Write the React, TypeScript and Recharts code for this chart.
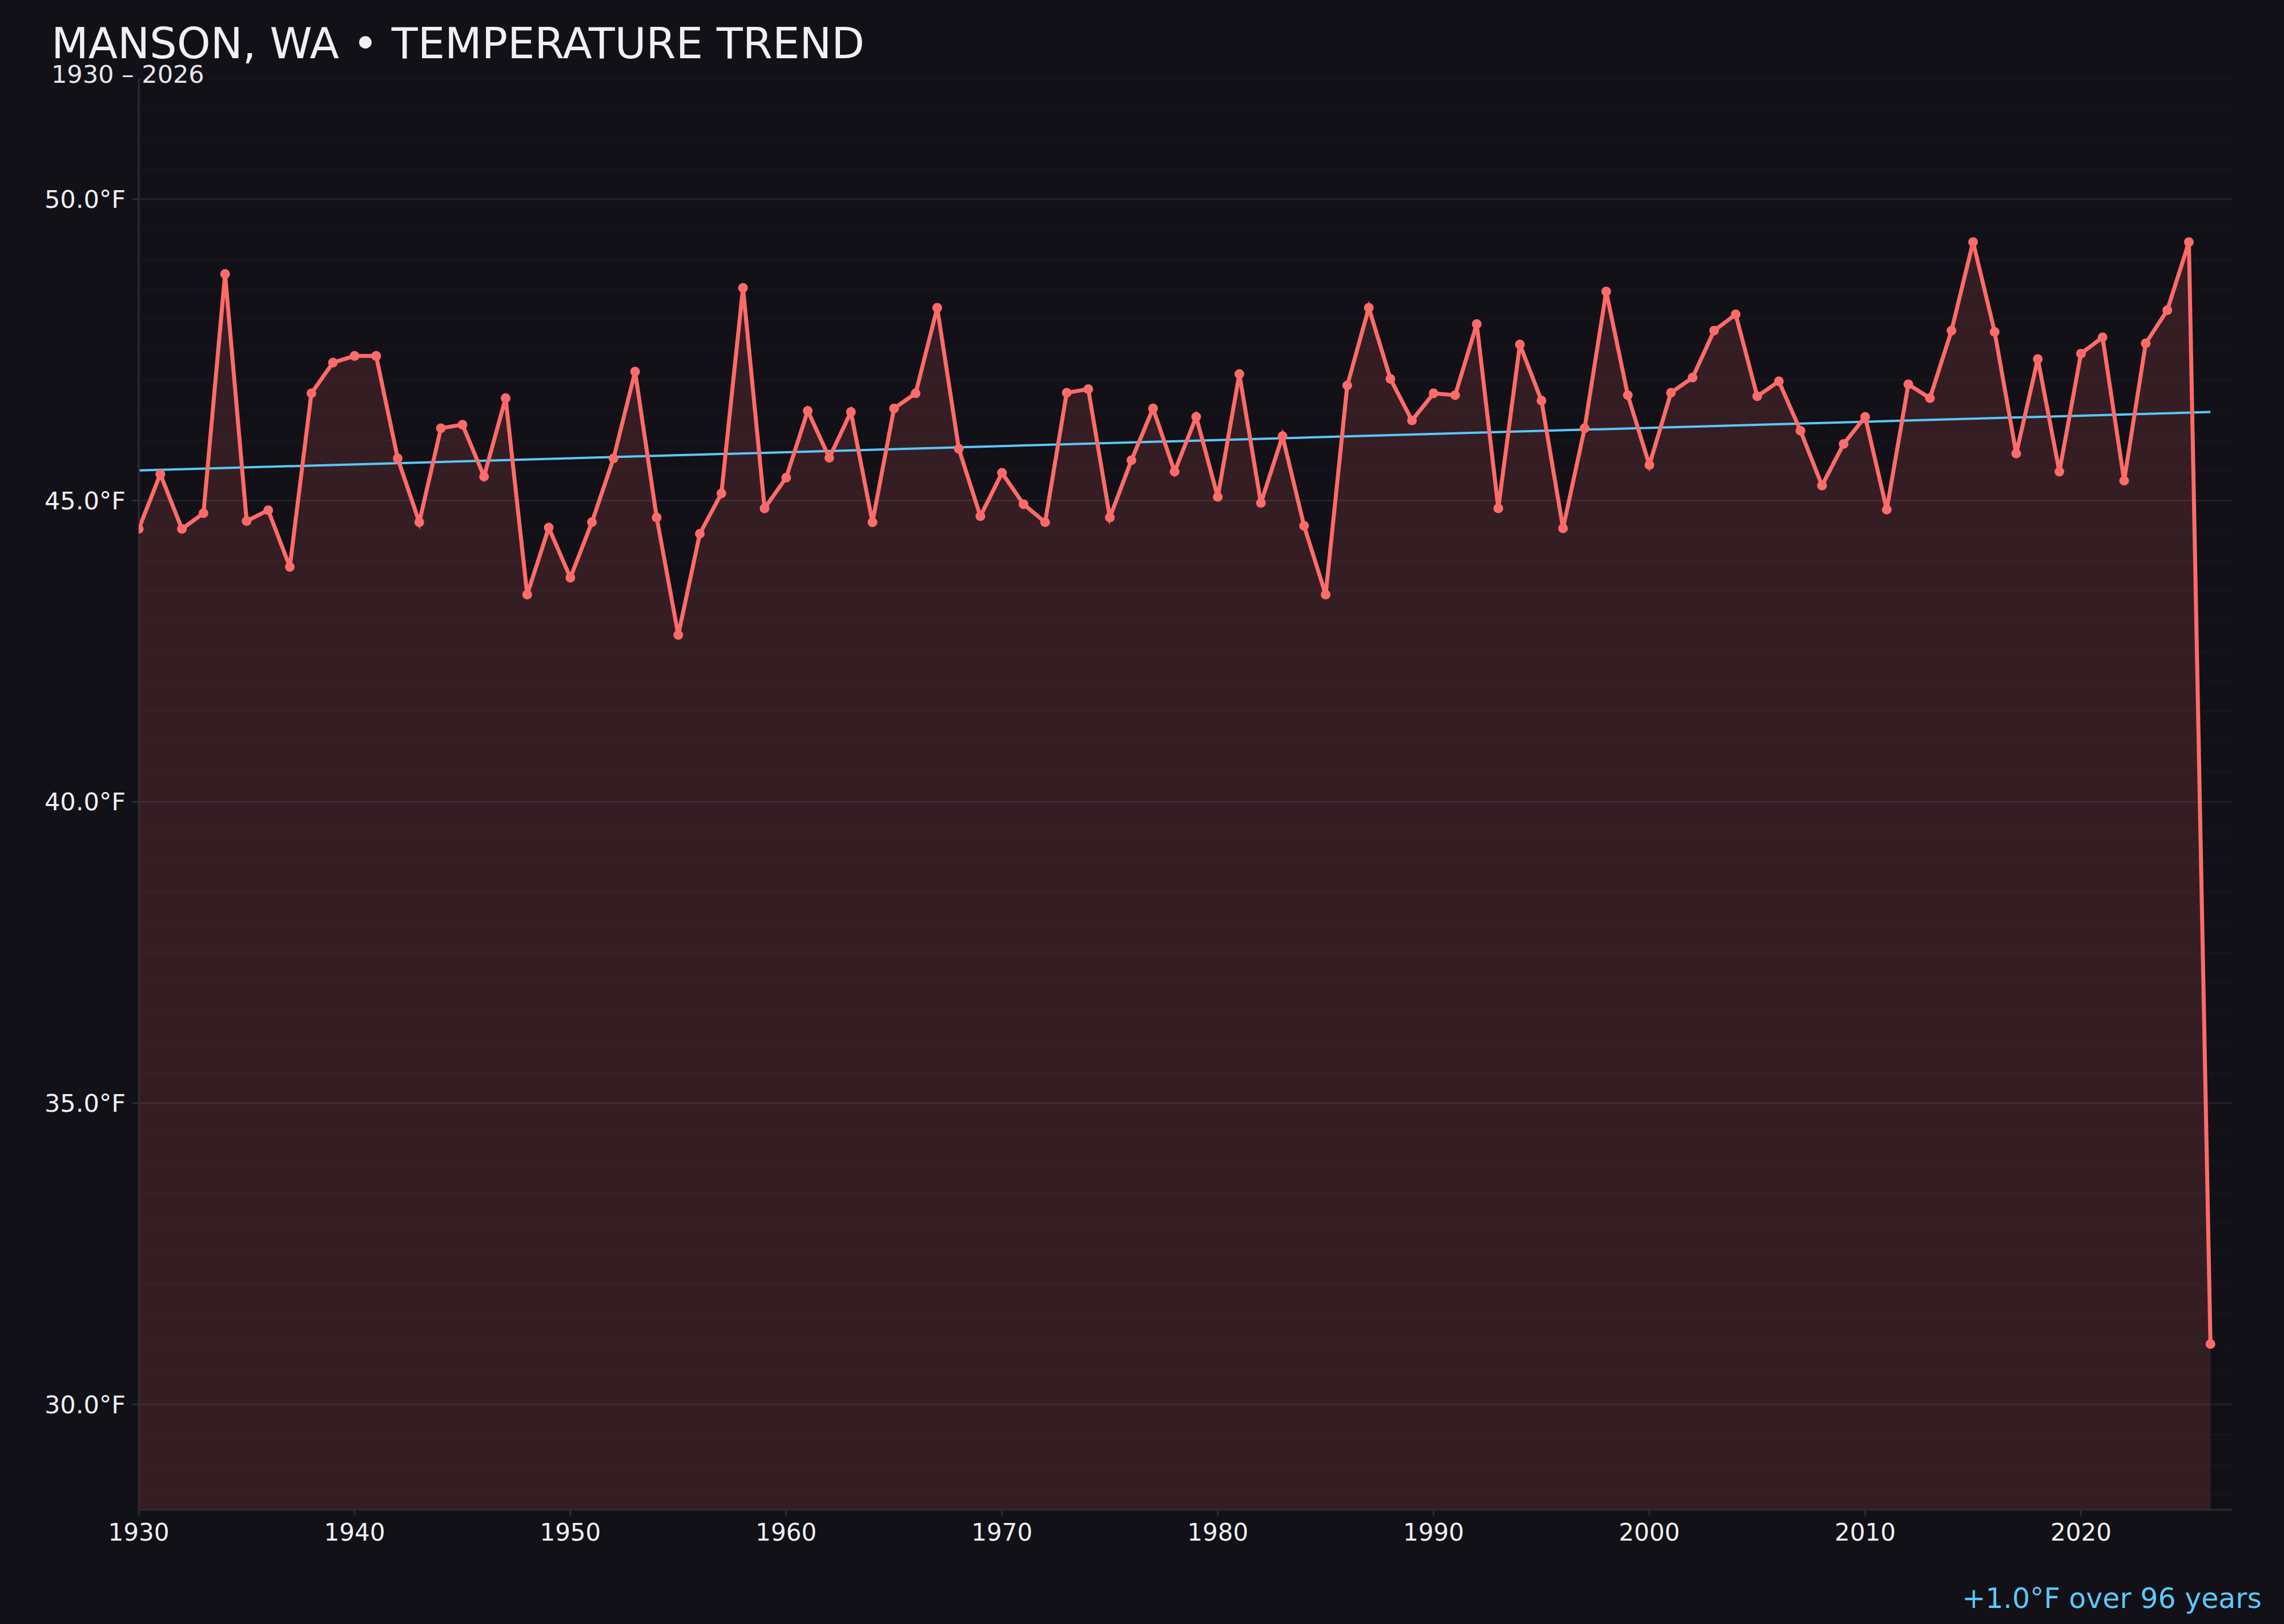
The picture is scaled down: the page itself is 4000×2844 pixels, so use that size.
import {
  Area,
  CartesianGrid,
  ComposedChart,
  Line,
  ReferenceLine,
  XAxis,
  YAxis,
} from "recharts";

const years = [
  1930, 1931, 1932, 1933, 1934, 1935, 1936, 1937, 1938, 1939,
  1940, 1941, 1942, 1943, 1944, 1945, 1946, 1947, 1948, 1949,
  1950, 1951, 1952, 1953, 1954, 1955, 1956, 1957, 1958, 1959,
  1960, 1961, 1962, 1963, 1964, 1965, 1966, 1967, 1968, 1969,
  1970, 1971, 1972, 1973, 1974, 1975, 1976, 1977, 1978, 1979,
  1980, 1981, 1982, 1983, 1984, 1985, 1986, 1987, 1988, 1989,
  1990, 1991, 1992, 1993, 1994, 1995, 1996, 1997, 1998, 1999,
  2000, 2001, 2002, 2003, 2004, 2005, 2006, 2007, 2008, 2009,
  2010, 2011, 2012, 2013, 2014, 2015, 2016, 2017, 2018, 2019,
  2020, 2021, 2022, 2023, 2024, 2025, 2026,
];

// annual mean temperature, °F
const temps = [
  44.53, 45.44, 44.53, 44.79, 48.76, 44.66, 44.84, 43.9, 46.78, 47.29,
  47.4, 47.4, 45.7, 44.64, 46.2, 46.26, 45.4, 46.7, 43.44, 44.55,
  43.72, 44.64, 45.7, 47.14, 44.72, 42.77, 44.45, 45.12, 48.53, 44.87,
  45.38, 46.49, 45.71, 46.47, 44.64, 46.53, 46.78, 48.2, 45.86, 44.74,
  45.46, 44.94, 44.64, 46.79, 46.85, 44.72, 45.67, 46.53, 45.48, 46.39,
  45.06, 47.1, 44.96, 46.07, 44.58, 43.44, 46.91, 48.2, 47.02, 46.33,
  46.78, 46.75, 47.93, 44.87, 47.59, 46.66, 44.54, 46.2, 48.47, 46.75,
  45.59, 46.79, 47.04, 47.82, 48.09, 46.73, 46.98, 46.16, 45.25, 45.94,
  46.39, 44.85, 46.93, 46.7, 47.82, 49.29, 47.8, 45.78, 47.35, 45.48,
  47.44, 47.71, 45.33, 47.61, 48.16, 49.29, 31.0,
];

// linear trend end points
const trendYears = [1930, 2026];
const trendTemps = [45.5, 46.47];

const xTicks = [1930, 1940, 1950, 1960, 1970, 1980, 1990, 2000, 2010, 2020];
const yTicks = [30, 35, 40, 45, 50];
const minorGrid = Array.from({ length: 48 }, (_, i) => 28.5 + i * 0.5);

const data = years.map((year, i) => ({ year, temp: temps[i] }));

const BG = "#121117";
const RED = "#ff6b6b";
const BLUE = "#5ac8fa";
const AXIS = "#2c2c34";
const TEXT = "#f0f0f5";

export default function App() {
  return (
    <div
      style={{
        position: "absolute",
        left: 0,
        top: 0,
        width: 4000,
        height: 2844,
        background: BG,
        fontFamily: "'DejaVu Sans', sans-serif",
        overflow: "hidden",
      }}
    >
      <ComposedChart
        width={4000}
        height={2844}
        data={data}
        margin={{ top: 138, right: 91, bottom: 100, left: 0 }}
      >
        <CartesianGrid
          vertical={false}
          horizontalValues={minorGrid}
          stroke="#17161c"
          strokeWidth={2}
        />
        <CartesianGrid
          vertical={false}
          horizontalValues={yTicks}
          stroke="#222128"
          strokeWidth={3}
        />
        <XAxis
          dataKey="year"
          type="number"
          domain={[1930, 2027]}
          ticks={xTicks}
          height={100}
          tickSize={10}
          tickMargin={14}
          stroke={AXIS}
          strokeWidth={3}
          tick={{ fill: TEXT, fontSize: 42 }}
          allowDataOverflow
        />
        <YAxis
          type="number"
          domain={[28.25, 52]}
          ticks={yTicks}
          width={243}
          tickSize={11}
          tickMargin={12}
          stroke={AXIS}
          strokeWidth={3}
          tick={{ fill: TEXT, fontSize: 43 }}
          tickFormatter={(v: number) => `${v.toFixed(1)}°F`}
          allowDataOverflow
        />
        <Area
          type="linear"
          dataKey="temp"
          stroke="none"
          fill={RED}
          fillOpacity={0.15}
          dot={false}
          activeDot={false}
          isAnimationActive={false}
        />
        <ReferenceLine
          segment={[
            { x: trendYears[0], y: trendTemps[0] },
            { x: trendYears[1], y: trendTemps[1] },
          ]}
          stroke={BLUE}
          strokeWidth={4}
        />
        <Line
          type="linear"
          dataKey="temp"
          stroke={RED}
          strokeWidth={7}
          dot={{ r: 8.5, fill: RED, stroke: "none" }}
          activeDot={false}
          isAnimationActive={false}
        />
      </ComposedChart>

      <svg
        width={4000}
        height={2844}
        style={{ position: "absolute", left: 0, top: 0, pointerEvents: "none" }}
      >
        <text x={90} y={102} fontSize={75} fill={TEXT}>
          MANSON, WA • TEMPERATURE TREND
        </text>
        <text x={90} y={145} fontSize={43} fill="#e6e6ec">
          1930 – 2026
        </text>
        <text x={3961} y={2816} fontSize={49} fill={BLUE} textAnchor="end">
          +1.0°F over 96 years
        </text>
      </svg>
    </div>
  );
}
